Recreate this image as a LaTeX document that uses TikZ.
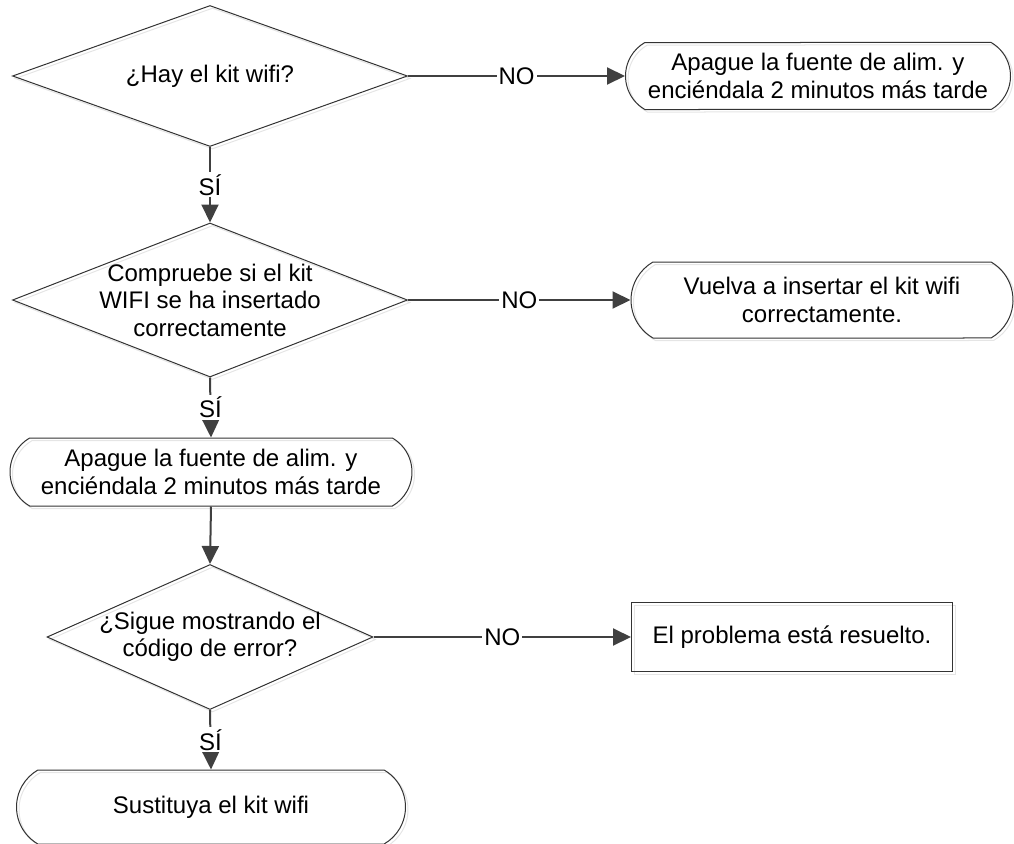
\documentclass[tikz,border=0pt]{standalone}
\usepackage{fontspec}
\setmainfont{Liberation Sans}
\usepackage{tikz}
\usetikzlibrary{shapes.geometric, shapes.misc, shadows}
\usetikzlibrary{arrows.meta, positioning, calc}

\begin{document}
\begin{tikzpicture}[
    x=1pt, y=-1pt,
    font=\fontsize{24}{27.5}\selectfont,
    base/.style={draw=black!80, line width=1pt, align=center,
        copy shadow={shadow xshift=2.5pt, shadow yshift=-2.5pt, draw=black!10, fill=none}},
    decision/.style={base, diamond, aspect=2.6, inner sep=-4pt},
    terminal/.style={base, rounded rectangle, rounded rectangle arc length=120, inner sep=0pt},
    result/.style={base, rectangle, inner sep=0pt},
    flow/.style={draw=black!75, line width=2pt, -{Triangle[length=18pt, width=17pt]}},
    answer/.style={fill=white, inner sep=2pt}
]
\useasboundingbox (0,0) rectangle (1014,843);

% preguntas
\node[decision, minimum width=395pt, minimum height=141pt] (haykit) at (210,76) {¿Hay el kit wifi?};
\node[decision, minimum width=395pt, minimum height=154pt] (insertado) at (210,300) {Compruebe si el kit\\WIFI se ha insertado\\correctamente};
\node[decision, minimum width=326pt, minimum height=145pt] (error) at (210,637) {¿Sigue mostrando el\\código de error?};

% acciones
\node[terminal, minimum width=385pt, minimum height=67pt] (apague1) at (818,76) {Apague la fuente de alim. y\\enciéndala 2 minutos más tarde};
\node[terminal, minimum width=382pt, minimum height=76pt] (reinserte) at (822,300) {Vuelva a insertar el kit wifi\\correctamente.};
\node[terminal, minimum width=402pt, minimum height=68pt] (apague2) at (211,472) {Apague la fuente de alim. y\\enciéndala 2 minutos más tarde};
\node[result, minimum width=321pt, minimum height=69pt] (resuelto) at (792,637) {El problema está resuelto.};
\node[terminal, minimum width=389pt, minimum height=74pt] (sustituya) at (211,807) {Sustituya el kit wifi};

% conexiones
\draw[flow] (haykit.east) -- node[answer] {NO} (apague1.west);
\draw[flow] (haykit.south) -- node[answer] {SÍ} (insertado.north);
\draw[flow] (insertado.east) -- node[answer] {NO} (reinserte.west);
\draw[flow] (insertado.south) -- node[answer] {SÍ} (apague2.north);
\draw[flow] (apague2.south) -- (error.north);
\draw[flow] (error.east) -- node[answer] {NO} (resuelto.west);
\draw[flow] (error.south) -- node[answer] {SÍ} (sustituya.north);
\end{tikzpicture}
\end{document}
